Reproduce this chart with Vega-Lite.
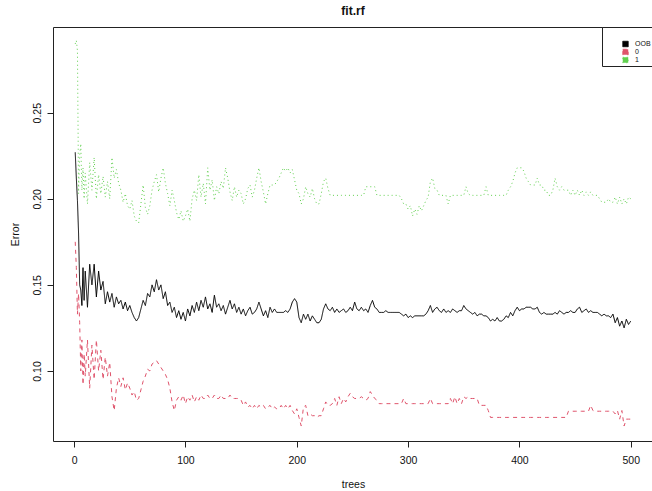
{
  "$schema": "https://vega.github.io/schema/vega-lite/v6.json",
  "autosize": {"type": "none"},
  "width": 600,
  "height": 414,
  "padding": {"left": 53, "top": 27, "right": 0, "bottom": 50},
  "background": "white",
  "config": {
    "font": "Liberation Sans",
    "view": {"stroke": "#222", "strokeWidth": 1},
    "axis": {"grid": false, "domain": false, "tickColor": "#222", "tickSize": 6, "labelColor": "#111", "labelFontSize": 10.5, "titleColor": "#111", "titleFontWeight": "normal", "titleFontSize": 10.5}
  },
  "title": {"text": "fit.rf", "fontSize": 12, "fontWeight": "bold", "color": "#111", "anchor": "middle", "offset": 9},
  "data": {"values": [
    {"t":1,"OOB":0.227,"0":0.175,"1":0.290},
    {"t":2,"OOB":0.212,"0":0.160,"1":0.292},
    {"t":3,"OOB":0.199,"0":0.133,"1":0.286},
    {"t":4,"OOB":0.180,"0":0.145,"1":0.203},
    {"t":5,"OOB":0.150,"0":0.128,"1":0.225},
    {"t":6,"OOB":0.147,"0":0.100,"1":0.232},
    {"t":7,"OOB":0.138,"0":0.118,"1":0.205},
    {"t":8,"OOB":0.160,"0":0.092,"1":0.218},
    {"t":9,"OOB":0.141,"0":0.110,"1":0.200},
    {"t":10,"OOB":0.158,"0":0.097,"1":0.215},
    {"t":12,"OOB":0.137,"0":0.118,"1":0.197},
    {"t":14,"OOB":0.162,"0":0.090,"1":0.221},
    {"t":16,"OOB":0.150,"0":0.115,"1":0.205},
    {"t":18,"OOB":0.162,"0":0.095,"1":0.224},
    {"t":20,"OOB":0.143,"0":0.118,"1":0.200},
    {"t":22,"OOB":0.158,"0":0.100,"1":0.214},
    {"t":24,"OOB":0.147,"0":0.112,"1":0.203},
    {"t":26,"OOB":0.152,"0":0.095,"1":0.213},
    {"t":28,"OOB":0.139,"0":0.108,"1":0.201},
    {"t":30,"OOB":0.146,"0":0.097,"1":0.210},
    {"t":32,"OOB":0.140,"0":0.105,"1":0.200},
    {"t":34,"OOB":0.145,"0":0.085,"1":0.224},
    {"t":36,"OOB":0.137,"0":0.077,"1":0.212},
    {"t":38,"OOB":0.143,"0":0.090,"1":0.217},
    {"t":40,"OOB":0.139,"0":0.096,"1":0.209},
    {"t":42,"OOB":0.141,"0":0.091,"1":0.205},
    {"t":44,"OOB":0.136,"0":0.096,"1":0.198},
    {"t":46,"OOB":0.140,"0":0.089,"1":0.203},
    {"t":48,"OOB":0.135,"0":0.093,"1":0.196},
    {"t":50,"OOB":0.138,"0":0.090,"1":0.194},
    {"t":52,"OOB":0.134,"0":0.086,"1":0.199},
    {"t":54,"OOB":0.131,"0":0.088,"1":0.190},
    {"t":56,"OOB":0.129,"0":0.083,"1":0.187},
    {"t":58,"OOB":0.131,"0":0.084,"1":0.186},
    {"t":60,"OOB":0.136,"0":0.089,"1":0.197},
    {"t":62,"OOB":0.141,"0":0.094,"1":0.208},
    {"t":64,"OOB":0.138,"0":0.097,"1":0.195},
    {"t":66,"OOB":0.145,"0":0.101,"1":0.191},
    {"t":68,"OOB":0.143,"0":0.100,"1":0.196},
    {"t":70,"OOB":0.150,"0":0.104,"1":0.205},
    {"t":72,"OOB":0.146,"0":0.105,"1":0.210},
    {"t":74,"OOB":0.153,"0":0.106,"1":0.214},
    {"t":76,"OOB":0.147,"0":0.104,"1":0.204},
    {"t":78,"OOB":0.150,"0":0.102,"1":0.212},
    {"t":80,"OOB":0.142,"0":0.100,"1":0.218},
    {"t":82,"OOB":0.146,"0":0.098,"1":0.209},
    {"t":84,"OOB":0.138,"0":0.095,"1":0.203},
    {"t":86,"OOB":0.140,"0":0.090,"1":0.196},
    {"t":88,"OOB":0.134,"0":0.082,"1":0.205},
    {"t":90,"OOB":0.137,"0":0.077,"1":0.199},
    {"t":92,"OOB":0.131,"0":0.083,"1":0.192},
    {"t":94,"OOB":0.135,"0":0.085,"1":0.188},
    {"t":96,"OOB":0.130,"0":0.083,"1":0.193},
    {"t":98,"OOB":0.134,"0":0.086,"1":0.187},
    {"t":100,"OOB":0.129,"0":0.081,"1":0.190},
    {"t":102,"OOB":0.136,"0":0.085,"1":0.194},
    {"t":104,"OOB":0.132,"0":0.083,"1":0.187},
    {"t":106,"OOB":0.138,"0":0.086,"1":0.200},
    {"t":108,"OOB":0.134,"0":0.082,"1":0.205},
    {"t":110,"OOB":0.140,"0":0.085,"1":0.199},
    {"t":112,"OOB":0.135,"0":0.083,"1":0.214},
    {"t":114,"OOB":0.141,"0":0.086,"1":0.201},
    {"t":116,"OOB":0.137,"0":0.084,"1":0.209},
    {"t":118,"OOB":0.143,"0":0.084,"1":0.197},
    {"t":120,"OOB":0.136,"0":0.086,"1":0.218},
    {"t":122,"OOB":0.139,"0":0.084,"1":0.205},
    {"t":124,"OOB":0.134,"0":0.084,"1":0.211},
    {"t":126,"OOB":0.144,"0":0.086,"1":0.199},
    {"t":128,"OOB":0.137,"0":0.084,"1":0.207},
    {"t":130,"OOB":0.139,"0":0.084,"1":0.203},
    {"t":132,"OOB":0.135,"0":0.086,"1":0.210},
    {"t":134,"OOB":0.138,"0":0.084,"1":0.206},
    {"t":136,"OOB":0.133,"0":0.084,"1":0.218},
    {"t":138,"OOB":0.137,"0":0.084,"1":0.212},
    {"t":140,"OOB":0.141,"0":0.086,"1":0.204},
    {"t":142,"OOB":0.136,"0":0.084,"1":0.199},
    {"t":144,"OOB":0.139,"0":0.084,"1":0.207},
    {"t":146,"OOB":0.134,"0":0.084,"1":0.201},
    {"t":148,"OOB":0.137,"0":0.084,"1":0.205},
    {"t":150,"OOB":0.133,"0":0.083,"1":0.203},
    {"t":152,"OOB":0.136,"0":0.080,"1":0.197},
    {"t":154,"OOB":0.132,"0":0.082,"1":0.200},
    {"t":156,"OOB":0.135,"0":0.079,"1":0.206},
    {"t":158,"OOB":0.137,"0":0.080,"1":0.208},
    {"t":160,"OOB":0.133,"0":0.078,"1":0.201},
    {"t":162,"OOB":0.134,"0":0.080,"1":0.205},
    {"t":164,"OOB":0.136,"0":0.078,"1":0.212},
    {"t":166,"OOB":0.140,"0":0.080,"1":0.218},
    {"t":168,"OOB":0.136,"0":0.079,"1":0.210},
    {"t":170,"OOB":0.132,"0":0.080,"1":0.204},
    {"t":172,"OOB":0.135,"0":0.078,"1":0.197},
    {"t":174,"OOB":0.131,"0":0.079,"1":0.203},
    {"t":176,"OOB":0.137,"0":0.080,"1":0.208},
    {"t":178,"OOB":0.134,"0":0.078,"1":0.208},
    {"t":180,"OOB":0.136,"0":0.079,"1":0.208},
    {"t":182,"OOB":0.134,"0":0.078,"1":0.210},
    {"t":184,"OOB":0.134,"0":0.078,"1":0.212},
    {"t":186,"OOB":0.134,"0":0.080,"1":0.215},
    {"t":188,"OOB":0.134,"0":0.078,"1":0.218},
    {"t":190,"OOB":0.135,"0":0.080,"1":0.216},
    {"t":192,"OOB":0.134,"0":0.078,"1":0.218},
    {"t":194,"OOB":0.136,"0":0.080,"1":0.215},
    {"t":196,"OOB":0.140,"0":0.077,"1":0.217},
    {"t":198,"OOB":0.142,"0":0.075,"1":0.211},
    {"t":200,"OOB":0.140,"0":0.078,"1":0.205},
    {"t":202,"OOB":0.131,"0":0.073,"1":0.203},
    {"t":204,"OOB":0.128,"0":0.068,"1":0.197},
    {"t":206,"OOB":0.133,"0":0.079,"1":0.200},
    {"t":208,"OOB":0.130,"0":0.080,"1":0.207},
    {"t":210,"OOB":0.133,"0":0.074,"1":0.203},
    {"t":212,"OOB":0.129,"0":0.075,"1":0.201},
    {"t":214,"OOB":0.132,"0":0.074,"1":0.206},
    {"t":216,"OOB":0.130,"0":0.074,"1":0.200},
    {"t":218,"OOB":0.128,"0":0.073,"1":0.197},
    {"t":220,"OOB":0.128,"0":0.074,"1":0.197},
    {"t":222,"OOB":0.130,"0":0.074,"1":0.203},
    {"t":224,"OOB":0.136,"0":0.078,"1":0.210},
    {"t":226,"OOB":0.139,"0":0.082,"1":0.212},
    {"t":228,"OOB":0.136,"0":0.080,"1":0.206},
    {"t":230,"OOB":0.135,"0":0.080,"1":0.202},
    {"t":232,"OOB":0.137,"0":0.081,"1":0.202},
    {"t":234,"OOB":0.134,"0":0.084,"1":0.202},
    {"t":236,"OOB":0.136,"0":0.080,"1":0.202},
    {"t":238,"OOB":0.134,"0":0.085,"1":0.202},
    {"t":240,"OOB":0.135,"0":0.081,"1":0.202},
    {"t":242,"OOB":0.136,"0":0.084,"1":0.202},
    {"t":244,"OOB":0.134,"0":0.082,"1":0.202},
    {"t":246,"OOB":0.135,"0":0.085,"1":0.202},
    {"t":248,"OOB":0.137,"0":0.087,"1":0.202},
    {"t":250,"OOB":0.135,"0":0.085,"1":0.202},
    {"t":252,"OOB":0.140,"0":0.084,"1":0.202},
    {"t":254,"OOB":0.136,"0":0.084,"1":0.202},
    {"t":256,"OOB":0.135,"0":0.084,"1":0.202},
    {"t":258,"OOB":0.137,"0":0.085,"1":0.202},
    {"t":260,"OOB":0.135,"0":0.084,"1":0.202},
    {"t":262,"OOB":0.136,"0":0.083,"1":0.207},
    {"t":264,"OOB":0.134,"0":0.084,"1":0.207},
    {"t":266,"OOB":0.138,"0":0.088,"1":0.207},
    {"t":268,"OOB":0.141,"0":0.086,"1":0.207},
    {"t":270,"OOB":0.137,"0":0.084,"1":0.207},
    {"t":272,"OOB":0.136,"0":0.083,"1":0.202},
    {"t":274,"OOB":0.134,"0":0.081,"1":0.202},
    {"t":276,"OOB":0.134,"0":0.081,"1":0.202},
    {"t":278,"OOB":0.134,"0":0.081,"1":0.202},
    {"t":280,"OOB":0.135,"0":0.081,"1":0.202},
    {"t":282,"OOB":0.134,"0":0.081,"1":0.202},
    {"t":284,"OOB":0.134,"0":0.081,"1":0.202},
    {"t":286,"OOB":0.134,"0":0.081,"1":0.202},
    {"t":288,"OOB":0.134,"0":0.081,"1":0.202},
    {"t":290,"OOB":0.134,"0":0.081,"1":0.202},
    {"t":292,"OOB":0.134,"0":0.081,"1":0.202},
    {"t":294,"OOB":0.133,"0":0.081,"1":0.200},
    {"t":296,"OOB":0.132,"0":0.084,"1":0.197},
    {"t":298,"OOB":0.133,"0":0.081,"1":0.197},
    {"t":300,"OOB":0.131,"0":0.081,"1":0.194},
    {"t":302,"OOB":0.132,"0":0.081,"1":0.196},
    {"t":304,"OOB":0.131,"0":0.081,"1":0.190},
    {"t":306,"OOB":0.132,"0":0.081,"1":0.194},
    {"t":308,"OOB":0.132,"0":0.081,"1":0.191},
    {"t":310,"OOB":0.132,"0":0.081,"1":0.196},
    {"t":312,"OOB":0.132,"0":0.081,"1":0.193},
    {"t":314,"OOB":0.132,"0":0.081,"1":0.196},
    {"t":316,"OOB":0.133,"0":0.081,"1":0.199},
    {"t":318,"OOB":0.135,"0":0.081,"1":0.201},
    {"t":320,"OOB":0.138,"0":0.084,"1":0.210},
    {"t":322,"OOB":0.134,"0":0.081,"1":0.212},
    {"t":324,"OOB":0.136,"0":0.081,"1":0.206},
    {"t":326,"OOB":0.137,"0":0.081,"1":0.205},
    {"t":328,"OOB":0.135,"0":0.081,"1":0.202},
    {"t":330,"OOB":0.134,"0":0.081,"1":0.202},
    {"t":332,"OOB":0.136,"0":0.081,"1":0.202},
    {"t":334,"OOB":0.134,"0":0.081,"1":0.202},
    {"t":336,"OOB":0.135,"0":0.081,"1":0.197},
    {"t":338,"OOB":0.134,"0":0.084,"1":0.202},
    {"t":340,"OOB":0.136,"0":0.081,"1":0.202},
    {"t":342,"OOB":0.135,"0":0.085,"1":0.202},
    {"t":344,"OOB":0.134,"0":0.081,"1":0.202},
    {"t":346,"OOB":0.135,"0":0.084,"1":0.202},
    {"t":348,"OOB":0.135,"0":0.081,"1":0.202},
    {"t":350,"OOB":0.138,"0":0.085,"1":0.202},
    {"t":352,"OOB":0.136,"0":0.084,"1":0.207},
    {"t":354,"OOB":0.135,"0":0.085,"1":0.203},
    {"t":356,"OOB":0.134,"0":0.084,"1":0.202},
    {"t":358,"OOB":0.133,"0":0.084,"1":0.202},
    {"t":360,"OOB":0.134,"0":0.084,"1":0.202},
    {"t":362,"OOB":0.132,"0":0.084,"1":0.202},
    {"t":364,"OOB":0.133,"0":0.080,"1":0.202},
    {"t":366,"OOB":0.133,"0":0.080,"1":0.202},
    {"t":368,"OOB":0.132,"0":0.080,"1":0.202},
    {"t":370,"OOB":0.132,"0":0.080,"1":0.207},
    {"t":372,"OOB":0.131,"0":0.077,"1":0.202},
    {"t":374,"OOB":0.129,"0":0.073,"1":0.202},
    {"t":376,"OOB":0.130,"0":0.073,"1":0.202},
    {"t":378,"OOB":0.129,"0":0.073,"1":0.202},
    {"t":380,"OOB":0.131,"0":0.073,"1":0.202},
    {"t":382,"OOB":0.129,"0":0.073,"1":0.202},
    {"t":384,"OOB":0.129,"0":0.073,"1":0.202},
    {"t":386,"OOB":0.130,"0":0.073,"1":0.202},
    {"t":388,"OOB":0.132,"0":0.073,"1":0.202},
    {"t":390,"OOB":0.131,"0":0.073,"1":0.205},
    {"t":392,"OOB":0.134,"0":0.073,"1":0.207},
    {"t":394,"OOB":0.132,"0":0.073,"1":0.210},
    {"t":396,"OOB":0.135,"0":0.073,"1":0.215},
    {"t":398,"OOB":0.137,"0":0.073,"1":0.218},
    {"t":400,"OOB":0.135,"0":0.073,"1":0.218},
    {"t":402,"OOB":0.136,"0":0.073,"1":0.218},
    {"t":404,"OOB":0.136,"0":0.073,"1":0.216},
    {"t":406,"OOB":0.137,"0":0.073,"1":0.212},
    {"t":408,"OOB":0.137,"0":0.073,"1":0.210},
    {"t":410,"OOB":0.137,"0":0.073,"1":0.208},
    {"t":412,"OOB":0.136,"0":0.073,"1":0.208},
    {"t":414,"OOB":0.136,"0":0.073,"1":0.208},
    {"t":416,"OOB":0.137,"0":0.073,"1":0.212},
    {"t":418,"OOB":0.134,"0":0.073,"1":0.208},
    {"t":420,"OOB":0.133,"0":0.073,"1":0.208},
    {"t":422,"OOB":0.134,"0":0.073,"1":0.205},
    {"t":424,"OOB":0.133,"0":0.073,"1":0.205},
    {"t":426,"OOB":0.133,"0":0.073,"1":0.202},
    {"t":428,"OOB":0.133,"0":0.073,"1":0.202},
    {"t":430,"OOB":0.133,"0":0.073,"1":0.205},
    {"t":432,"OOB":0.134,"0":0.073,"1":0.212},
    {"t":434,"OOB":0.133,"0":0.073,"1":0.207},
    {"t":436,"OOB":0.135,"0":0.073,"1":0.205},
    {"t":438,"OOB":0.134,"0":0.073,"1":0.207},
    {"t":440,"OOB":0.133,"0":0.073,"1":0.205},
    {"t":442,"OOB":0.134,"0":0.073,"1":0.205},
    {"t":444,"OOB":0.134,"0":0.0766,"1":0.205},
    {"t":446,"OOB":0.135,"0":0.0766,"1":0.202},
    {"t":448,"OOB":0.134,"0":0.0766,"1":0.205},
    {"t":450,"OOB":0.134,"0":0.0766,"1":0.202},
    {"t":452,"OOB":0.136,"0":0.0766,"1":0.205},
    {"t":454,"OOB":0.137,"0":0.0766,"1":0.202},
    {"t":456,"OOB":0.134,"0":0.0766,"1":0.205},
    {"t":458,"OOB":0.135,"0":0.0766,"1":0.202},
    {"t":460,"OOB":0.136,"0":0.0766,"1":0.204},
    {"t":462,"OOB":0.134,"0":0.0766,"1":0.202},
    {"t":464,"OOB":0.135,"0":0.080,"1":0.204},
    {"t":466,"OOB":0.134,"0":0.077,"1":0.202},
    {"t":468,"OOB":0.134,"0":0.0766,"1":0.202},
    {"t":470,"OOB":0.134,"0":0.0766,"1":0.202},
    {"t":472,"OOB":0.133,"0":0.0766,"1":0.200},
    {"t":474,"OOB":0.132,"0":0.0766,"1":0.198},
    {"t":476,"OOB":0.133,"0":0.0766,"1":0.198},
    {"t":478,"OOB":0.132,"0":0.0766,"1":0.198},
    {"t":480,"OOB":0.132,"0":0.0766,"1":0.200},
    {"t":482,"OOB":0.131,"0":0.0766,"1":0.198},
    {"t":484,"OOB":0.133,"0":0.0766,"1":0.198},
    {"t":486,"OOB":0.128,"0":0.075,"1":0.201},
    {"t":488,"OOB":0.131,"0":0.077,"1":0.197},
    {"t":490,"OOB":0.126,"0":0.072,"1":0.201},
    {"t":492,"OOB":0.129,"0":0.077,"1":0.197},
    {"t":494,"OOB":0.125,"0":0.068,"1":0.200},
    {"t":496,"OOB":0.130,"0":0.072,"1":0.197},
    {"t":498,"OOB":0.127,"0":0.072,"1":0.201},
    {"t":500,"OOB":0.129,"0":0.072,"1":0.200}
  ]},
  "transform": [{"fold": ["OOB", "0", "1"], "as": ["series", "err"]}],
  "encoding": {
    "x": {"field": "t", "type": "quantitative", "title": "trees",
      "scale": {"domain": [-18.96, 519.96], "nice": false, "zero": false},
      "axis": {"values": [0, 100, 200, 300, 400, 500], "labelPadding": 8, "titlePadding": 14, "labelFlush": false}},
    "y": {"field": "err", "type": "quantitative", "title": "Error",
      "scale": {"domain": [0.0593, 0.2998], "nice": false, "zero": false},
      "axis": {"values": [0.10, 0.15, 0.20, 0.25, 0.30], "format": ".2f", "labelAngle": -90, "labelAlign": "center", "labelBaseline": "bottom", "labelPadding": 5, "titlePadding": 12, "labelFlush": false}}
  },
  "layer": [
    {
      "mark": {"type": "square", "filled": true, "size": 0, "opacity": 1},
      "encoding": {
        "fill": {"field": "series", "type": "nominal", "scale": {"domain": ["OOB", "0", "1"], "range": ["#000000", "#DF536B", "#61D04F"]},
          "legend": {"title": "                         ", "titleFontSize": 9, "titlePadding": 2, "titleLimit": 200, "orient": "none", "legendX": 549, "legendY": 0, "symbolType": "square", "symbolSize": 30, "symbolOpacity": 1, "symbolStrokeColor": "#000", "symbolStrokeWidth": 0.8, "labelFontSize": 7, "labelColor": "#111", "strokeColor": "#222", "fillColor": "white", "padding": 2, "symbolOffset": 18, "rowPadding": 0, "clipHeight": 8, "labelOffset": 6}}
      }
    },
    {
      "mark": {"type": "line", "strokeWidth": 1, "clip": true},
      "encoding": {
        "stroke": {"field": "series", "type": "nominal", "scale": {"domain": ["OOB", "0", "1"], "range": ["#000000", "#DF536B", "#61D04F"]}, "legend": null},
        "strokeDash": {"field": "series", "type": "nominal", "scale": {"domain": ["OOB", "0", "1"], "range": [[1, 0], [4, 4], [1, 3]]}, "legend": null},
        "detail": {"field": "series"}
      }
    }
  ]
}
